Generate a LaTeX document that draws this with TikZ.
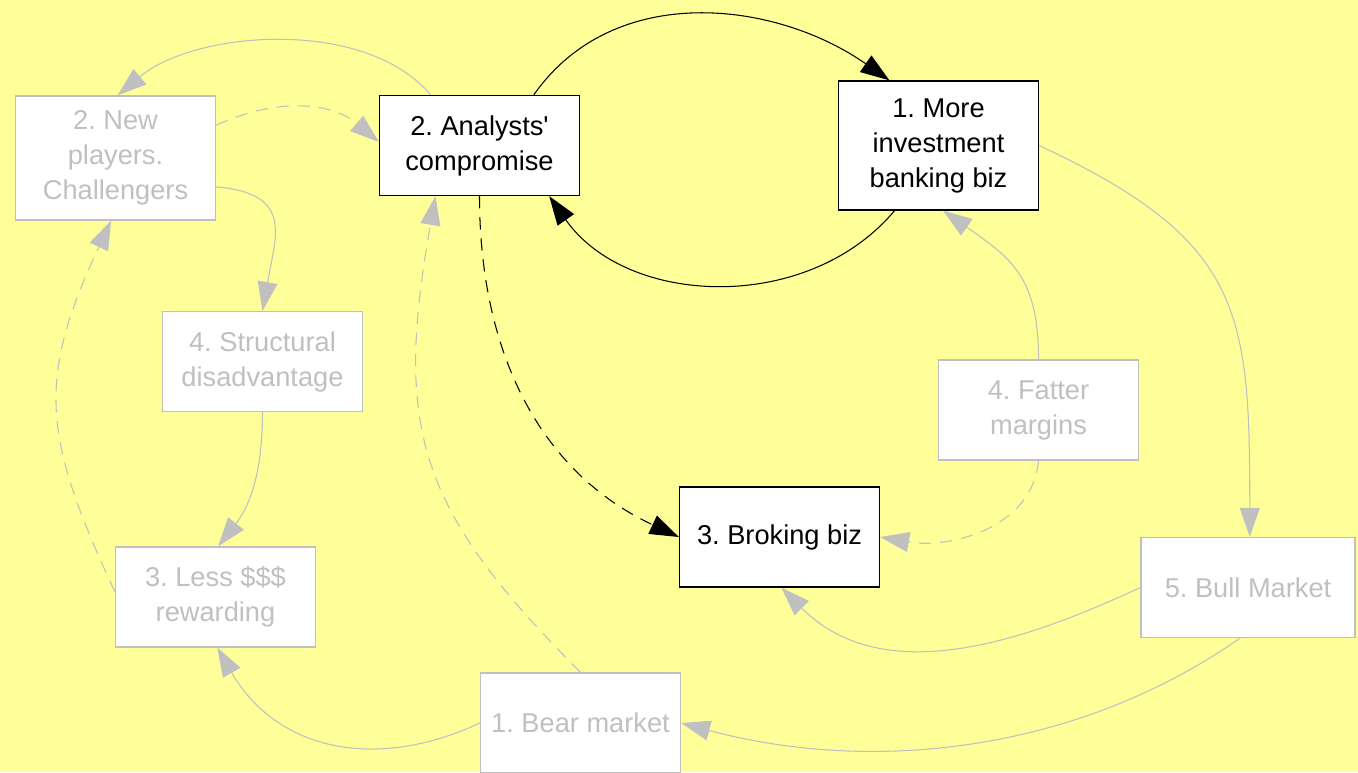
\documentclass[tikz,border=0pt]{standalone}
\usepackage{fontspec}
\setmainfont{Liberation Sans}
\usetikzlibrary{arrows.meta}
\definecolor{paleyellow}{RGB}{255,255,153}
\definecolor{fadegrey}{RGB}{192,192,192}
\frenchspacing

\begin{document}
\begin{tikzpicture}[x=0.02cm,y=0.02cm,
        >={Triangle[length=0.58cm,width=0.4cm]},
        every node/.style={font=\fontsize{15.5}{19.9}\selectfont,align=center,inner sep=0pt,minimum width=4cm,minimum height=2cm},
        livebox/.style={draw=black,fill=white,line width=0.75pt,text=black},
        fadebox/.style={draw=fadegrey,fill=white,line width=0.75pt,text=fadegrey},
        live/.style={black,line width=0.6pt},
        fade/.style={fadegrey,line width=0.6pt},
        dashes/.style={dash pattern=on 7pt off 5pt}]
        \useasboundingbox (0,0) rectangle (1358,772);
        \fill[paleyellow] (0,0) rectangle (1358,772);

        \node[livebox] (analysts) at (479.5,626.5) {2. Analysts\textquotesingle\\compromise};
        \node[livebox,minimum height=2.58cm] (ibiz) at (938.5,626.5) {1. More\\investment\\banking biz};
        \node[livebox] (broking) at (779.5,235) {3. Broking biz};
        \node[fadebox,minimum height=2.48cm] (newplayers) at (115.5,614) {2. New\\players.\\Challengers};
        \node[fadebox] (structural) at (262.5,410.5) {4. Structural\\disadvantage};
        \node[fadebox] (lessmoney) at (215.5,175) {3. Less \$\$\$\\rewarding};
        \node[fadebox] (bear) at (580.5,49) {1. Bear market};
        \node[fadebox] (fatter) at (1038.5,362) {4. Fatter\\margins};
        \node[fadebox,minimum width=4.28cm] (bull) at (1248,184.5) {5. Bull Market};

        \draw[live,->] (analysts.43) to [out=55,in=145] (ibiz.127);
        \draw[live,->] (ibiz.236) to [out=-130,in=-55] (analysts.-36);
        \draw[live,dashes,->] (analysts.south) to [out=-90,in=155] (broking.west);

        \draw[fade,->] (analysts.134) to [out=130,in=40,looseness=0.83] (newplayers.88);
        \draw[fade,dashes,->] (newplayers.18) to [out=25,in=140] (analysts.178);
        \draw[fade,->] (newplayers.-16) to [out=-5,in=80,looseness=1.5] (structural.north);
        \draw[fade,->] (structural.south) to [out=-90,in=52] (lessmoney.87);
        \draw[fade,dashes,->] (lessmoney.177) to [out=115,in=-115,looseness=1.2] (newplayers.-94);
        \draw[fade,->] (bear.west) to [out=-155,in=-60,looseness=1.1] (lessmoney.-88);
        \draw[fade,dashes,->] (bear.north) to [out=135,in=-100,looseness=1.2] (analysts.229);

        \draw[fade,->] (ibiz.east) to [out=-25,in=90,looseness=1.3] (bull.88);
        \draw[fade,->] (fatter.north) to [out=90,in=-35,looseness=1.2] (ibiz.-86);
        \draw[fade,dashes,->] (fatter.south) to [out=-95,in=-10] (broking.east);
        \draw[fade,->] (bull.west) to [out=-155,in=-45] (broking.-88);
        \draw[fade,->] (bull.-99) to [out=-145,in=-15,looseness=0.9] (bear.east);
    \end{tikzpicture}
\end{document}
